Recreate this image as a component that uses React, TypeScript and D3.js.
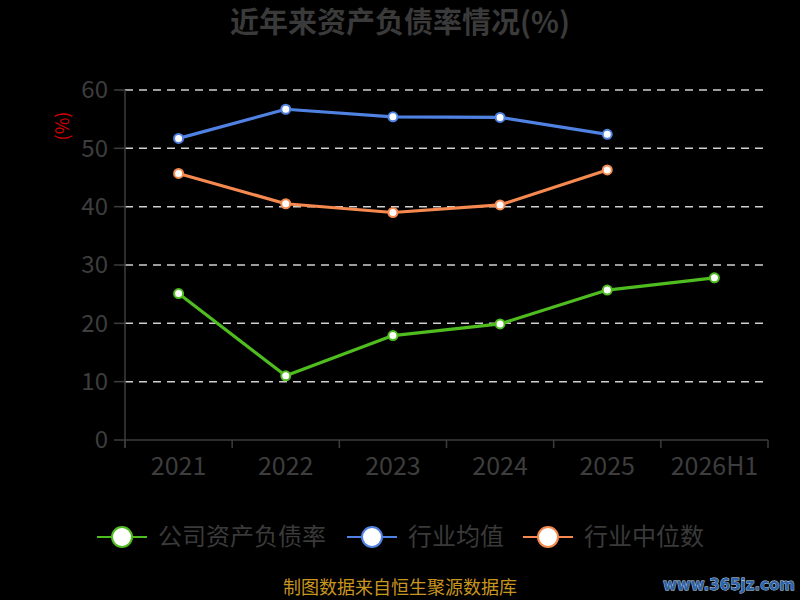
import * as d3 from 'd3';

const years = ['2021', '2022', '2023', '2024', '2025', '2026H1'];
const companyRatio = [25.1, 11.0, 17.9, 19.9, 25.7, 27.8];
const industryMean = [51.7, 56.7, 55.4, 55.3, 52.4];
const industryMedian = [45.7, 40.5, 39.0, 40.3, 46.3];
const yTicks = [0, 10, 20, 30, 40, 50, 60];

const seriesList = [
  { name: '公司资产负债率', values: companyRatio, color: '#4fbd1f' },
  { name: '行业均值', values: industryMean, color: '#4f82e2' },
  { name: '行业中位数', values: industryMedian, color: '#f5894f' },
];

const W = 800;
const H = 600;
const margin = { top: 90, right: 32, bottom: 160, left: 125 };
const font = '"Noto Sans CJK SC", "Noto Sans", sans-serif';
const axisColor = '#3d3d3d';

export default function App() {
  const x = d3.scaleBand<string>()
    .domain(years)
    .range([margin.left, W - margin.right]);
  const y = d3.scaleLinear()
    .domain([0, 60])
    .range([H - margin.bottom, margin.top]);

  const line = d3.line<number>()
    .x((_, i) => x(years[i])! + x.bandwidth() / 2)
    .y(d => y(d));

  const legendX = [97, 347, 523];

  return (
    <svg width={W} height={H} style={{ position: 'absolute', left: 0, top: 0, background: '#000', display: 'block' }}>
      <rect x={0} y={0} width={W} height={H} fill="#000" />
      <text x={W / 2} y={23} dy="0.35em" textAnchor="middle" fontFamily={font} fontSize={29} fontWeight="bold" fill="#3a3a3a">
        近年来资产负债率情况(%)
      </text>

      {/* grid + y ticks */}
      {yTicks.map(t => (
        <g key={t}>
          {t > 0 && (
            <line x1={margin.left} x2={W - margin.right} y1={y(t)} y2={y(t)}
              stroke="#d0d0d0" strokeWidth={1.5} strokeDasharray="8,6" />
          )}
          <line x1={margin.left - 11} x2={margin.left} y1={y(t)} y2={y(t)} stroke={axisColor} strokeWidth={1.5} />
          <text x={margin.left - 17} y={y(t)} dy="0.35em" textAnchor="end" fontFamily={font} fontSize={24} fill={axisColor}>
            {t}
          </text>
        </g>
      ))}
      <line x1={margin.left} x2={margin.left} y1={margin.top} y2={y(0) + 8} stroke={axisColor} strokeWidth={1.5} />
      <text transform={`translate(63,${margin.top + 36}) rotate(-90)`} textAnchor="middle" dy="0.35em"
        fontFamily={font} fontSize={18} fill="#d10000">(%)</text>

      {/* x axis */}
      <line x1={margin.left} x2={W - margin.right} y1={y(0)} y2={y(0)} stroke={axisColor} strokeWidth={1.5} />
      {years.map((yr, i) => (
        <g key={yr}>
          <line x1={x(yr)! + x.bandwidth()} x2={x(yr)! + x.bandwidth()} y1={y(0)} y2={y(0) + 8}
            stroke={axisColor} strokeWidth={1.5} />
          {i === 0 && <line x1={x(yr)!} x2={x(yr)!} y1={y(0)} y2={y(0) + 8} stroke={axisColor} strokeWidth={1.5} />}
          <text x={x(yr)! + x.bandwidth() / 2} y={y(0) + 26} dy="0.35em" textAnchor="middle"
            fontFamily={font} fontSize={25} fill={axisColor}>{yr}</text>
        </g>
      ))}

      {/* series */}
      {seriesList.map(s => (
        <g key={s.name}>
          <path d={line(s.values) ?? ''} fill="none" stroke={s.color} strokeWidth={3.2} strokeLinejoin="round" />
          {s.values.map((v, i) => (
            <circle key={i} cx={x(years[i])! + x.bandwidth() / 2} cy={y(v)} r={4.5}
              fill="#fff" stroke={s.color} strokeWidth={2} />
          ))}
        </g>
      ))}

      {/* legend */}
      {seriesList.map((s, i) => (
        <g key={s.name} transform={`translate(${legendX[i]},537)`}>
          <line x1={0} x2={50} y1={0} y2={0} stroke={s.color} strokeWidth={2} />
          <circle cx={25} cy={0} r={10} fill="#fff" stroke={s.color} strokeWidth={2} />
          <text x={61} y={0} dy="0.35em" fontFamily={font} fontSize={24} fill="#3a3a3a">{s.name}</text>
        </g>
      ))}

      <text x={W / 2} y={588} dy="0.35em" textAnchor="middle" fontFamily={font} fontSize={18} fill="#c8951f">
        制图数据来自恒生聚源数据库
      </text>
      <text x={795} y={585} dy="0.35em" textAnchor="end" fontFamily='"DejaVu Sans", sans-serif' fontSize={15}
        fontWeight="bold" fill="#2f63a8" stroke="#cfe0f5" strokeWidth={0.8} paintOrder="stroke">
        www.365jz.com
      </text>
    </svg>
  );
}
